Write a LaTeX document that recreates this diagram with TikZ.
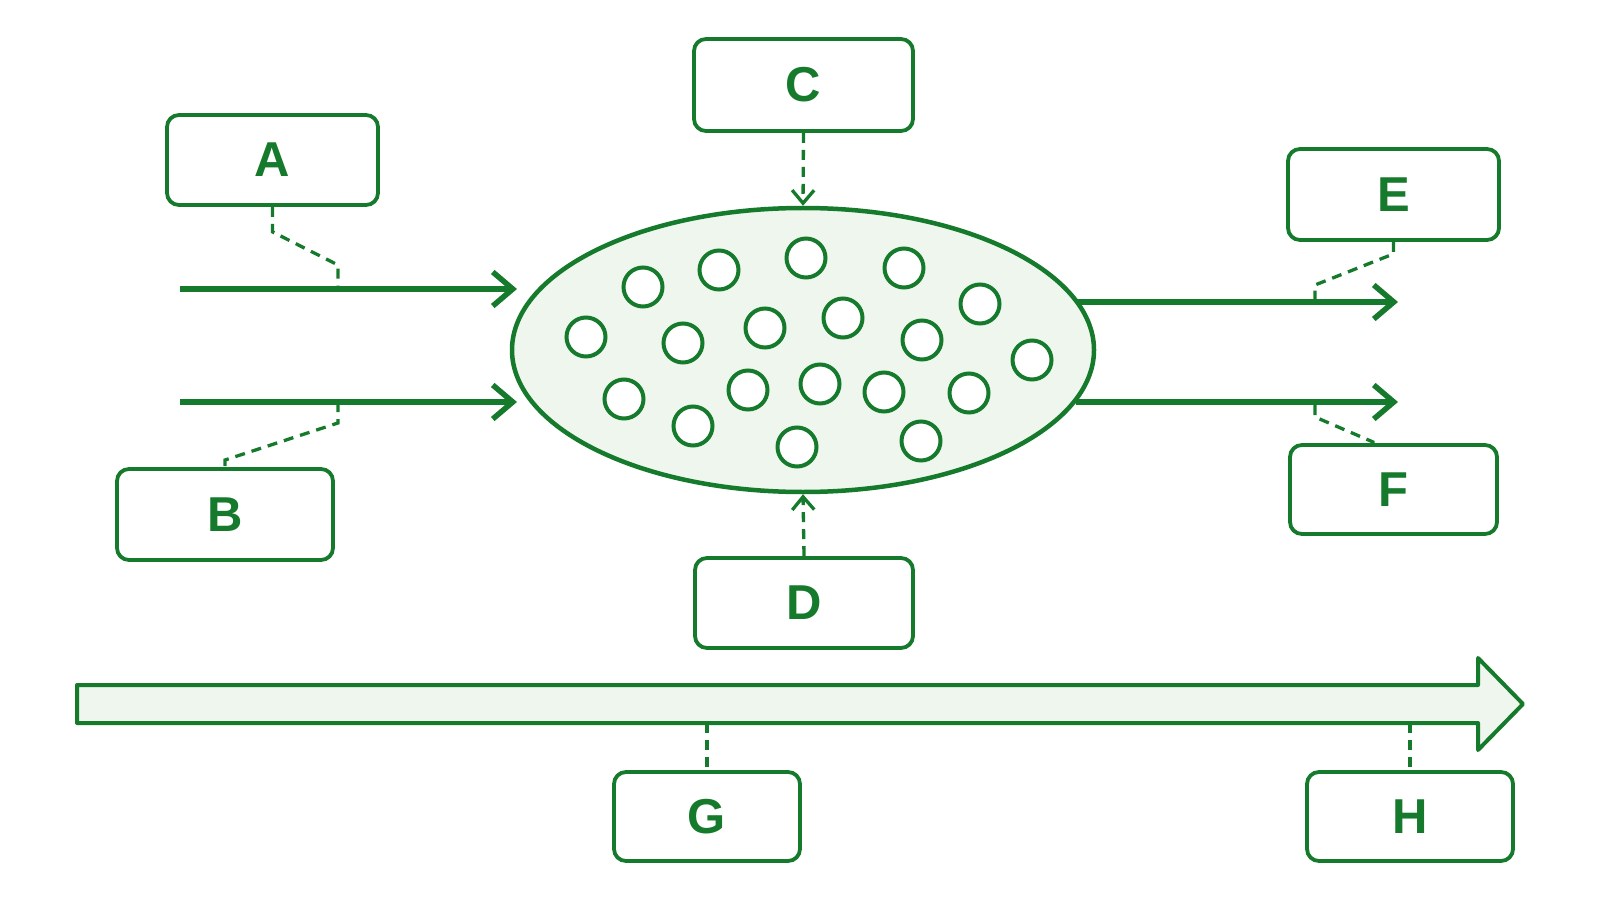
\documentclass[tikz,border=0pt]{standalone}
\usepackage{fontspec}
\setmainfont{Liberation Sans}
\usetikzlibrary{arrows.meta,shapes.geometric}
\definecolor{dg}{HTML}{167A2C}
\definecolor{lg}{HTML}{EEF6EE}
\tikzset{
  lbox/.style={draw=dg,line width=3.8pt,rounded corners=12pt,fill=white,inner sep=0pt,
    text=dg,font=\fontsize{49}{57}\selectfont\bfseries},
  flow/.style={draw=dg,line width=5.5pt,-{Straight Barb[length=20pt,width=34pt,line width=5.5pt]}},
  leader/.style={draw=dg,line width=3.3pt,dash pattern=on 10pt off 7pt},
  leadarrow/.style={leader,-{Straight Barb[length=13pt,width=22pt,line width=3.3pt]}},
  bubble/.style={draw=dg,line width=4pt,fill=white},
}
\begin{document}
\begin{tikzpicture}[x=1pt,y=-1pt]
\useasboundingbox (0,0) rectangle (1600,901);
\fill[white] (0,0) rectangle (1600,901);

% central pool
\node[ellipse,draw=dg,fill=lg,line width=4.5pt,minimum width=582pt,minimum height=284pt,inner sep=0pt] (pool) at (803,350) {};
\foreach \cx/\cy in {643/287,719/270,806/258,904/268,980/304,
  586/337,683/343,765/328,843/318,922/340,1032/360,
  624/399,693/426,748/390,820/384,884/392,969/393,
  797/447,921/441}
  \draw[bubble] (\cx,\cy) circle (19.5);

% label boxes
\node[lbox,minimum width=211pt,minimum height=90pt] (A) at (272.5,160) {A};
\node[lbox,minimum width=216pt,minimum height=91pt] (B) at (225,514.5) {B};
\node[lbox,minimum width=219pt,minimum height=92pt] (C) at (803.5,85) {C};
\node[lbox,minimum width=218pt,minimum height=90pt] (D) at (804,603) {D};
\node[lbox,minimum width=211pt,minimum height=91pt] (E) at (1393.5,194.5) {E};
\node[lbox,minimum width=207pt,minimum height=89pt] (F) at (1393.5,489.5) {F};
\node[lbox,minimum width=186pt,minimum height=89pt] (G) at (707,816.5) {G};
\node[lbox,minimum width=206pt,minimum height=89pt] (H) at (1410,816.5) {H};

% flow arrows
\coordinate (a0) at (180,289); \coordinate (a1) at (517,289);
\coordinate (b0) at (180,402); \coordinate (b1) at (517,402);
\coordinate (e0) at (1076,302); \coordinate (e1) at (1398,302);
\coordinate (f0) at (1076,402); \coordinate (f1) at (1398,402);
\draw[flow] (a0) -- (a1);
\draw[flow] (b0) -- (b1);
\draw[flow] (e0) -- (e1);
\draw[flow] (f0) -- (f1);

% leaders
\coordinate (aT) at (338,289);
\coordinate (bT) at (338,402);
\coordinate (eT) at (1315,302);
\coordinate (fT) at (1315,405);
\draw[leader] (A.south) -- ++(0,25) -- (338,265) -- (aT);
\draw[leader] (bT) -- (338,423) -- (225,460) -- (B.north);
\draw[leader] (E.south) -- ++(0,12) -- (1315,285) -- (eT);
\draw[leader] (fT) -- (1315,417) -- (1373,442) -- ([xshift=-20.5pt]F.north);
\draw[leadarrow] (C.south) -- (pool.north);
\draw[leadarrow] (D.north) -- (pool.south);

% big time arrow
\draw[draw=dg,fill=lg,line width=4pt,line join=round]
  (77,685) -- (1478,685) -- (1478,658) -- (1523,704) -- (1478,750) -- (1478,723) -- (77,723) -- cycle;
\coordinate (gT) at (707,723);
\coordinate (hT) at (1410,723);
\draw[leader] (gT) -- (G.north);
\draw[leader] (hT) -- (H.north);
\end{tikzpicture}
\end{document}
